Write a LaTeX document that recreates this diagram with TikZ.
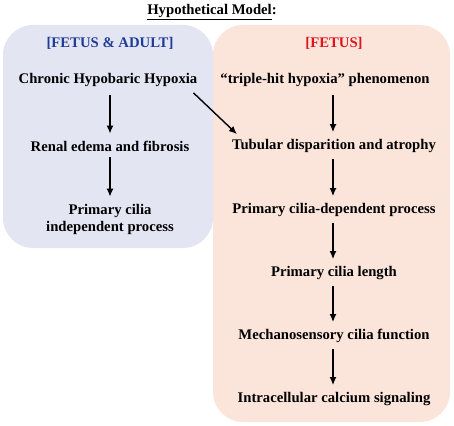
\documentclass[tikz,border=0pt]{standalone}
\usepackage{fontspec}
\setmainfont{Liberation Serif}
\usetikzlibrary{arrows.meta}
\definecolor{leftbg}{HTML}{E3E5F3}
\definecolor{rightbg}{HTML}{FBE5DA}
\definecolor{hdblue}{HTML}{1F3C96}
\definecolor{hdred}{HTML}{E0141E}
\begin{document}
\begin{tikzpicture}[x=1pt,y=-1pt,
  lbl/.style={font=\bfseries\fontsize{14.7}{17}\selectfont, align=center, inner sep=0pt},
  arr/.style={line width=1.4pt, -{Latex[length=8pt,width=7pt]}},
  panel/.style={rounded corners=30pt, draw=none}]
\useasboundingbox (0,0) rectangle (454,425);
\fill[rightbg, panel] (213,25) rectangle (450,422);
\fill[leftbg, panel] (3,25) rectangle (213,248);
\node[lbl] (title) at (212,12) {\underline{Hypothetical Model}:};
\node[lbl, text=hdblue] (hl) at (110,43) {[FETUS \& ADULT]};
\node[lbl, text=hdred] (hr) at (334,43) {[FETUS]};
\node[lbl] (a1) at (108,80) {Chronic Hypobaric Hypoxia};
\node[lbl] (a2) at (110,146) {Renal edema and fibrosis};
\node[lbl] (a3) at (110,219) {Primary cilia\\independent process};
\node[lbl] (b1) at (325,80) {“triple-hit hypoxia” phenomenon};
\node[lbl] (b2) at (334,146) {Tubular disparition and atrophy};
\node[lbl] (b3) at (334,210) {Primary cilia-dependent process};
\node[lbl] (b4) at (334,273) {Primary cilia length};
\node[lbl] (b5) at (334,336) {Mechanosensory cilia function};
\node[lbl] (b6) at (334,399) {Intracellular calcium signaling};
\coordinate (ax) at (110,0);
\coordinate (bx) at (333,0);
\draw[arr] ([yshift=-8pt]a1.south -| ax) -- ([yshift=7pt]a2.north -| ax);
\draw[arr] ([yshift=-6pt]a2.south -| ax) -- ([yshift=7pt]a3.north -| ax);
\draw[arr] ([yshift=-8pt]b1.south -| bx) -- ([yshift=7pt]b2.north -| bx);
\draw[arr] ([yshift=-6pt]b2.south -| bx) -- ([yshift=7pt]b3.north -| bx);
\draw[arr] ([yshift=-6pt]b3.south -| bx) -- ([yshift=7pt]b4.north -| bx);
\draw[arr] ([yshift=-6pt]b4.south -| bx) -- ([yshift=7pt]b5.north -| bx);
\draw[arr] ([yshift=-6pt]b5.south -| bx) -- ([yshift=7pt]b6.north -| bx);
\draw[arr] ([xshift=-4pt,yshift=-6pt]a1.south east) -- ([xshift=5pt,yshift=5pt]b2.north west);
\end{tikzpicture}
\end{document}
